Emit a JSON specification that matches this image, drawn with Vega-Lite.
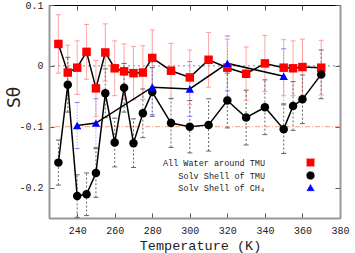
{
  "$schema": "https://vega.github.io/schema/vega-lite/v6.json",
  "width": 291,
  "height": 213,
  "autosize": {"type": "none"},
  "padding": {"left": 49, "top": 5, "right": 15, "bottom": 35},
  "background": "white",
  "config": {
    "view": {"stroke": "#000", "strokeWidth": 1},
    "legend": {"labelFont": "Liberation Mono", "labelFontSize": 8.5, "labelColor": "#222222", "labelAlign": "right", "labelOffset": -50, "symbolSize": 64, "rowPadding": 0, "symbolStrokeWidth": 1}
  },
  "datasets": {
    "d": [
      {"s": "All Water around TMU", "T": 230, "S": 0.036, "lo": -0.012, "hi": 0.084},
      {"s": "All Water around TMU", "T": 235, "S": -0.011, "lo": -0.056, "hi": 0.034},
      {"s": "All Water around TMU", "T": 240, "S": -0.003, "lo": -0.047, "hi": 0.041},
      {"s": "All Water around TMU", "T": 245, "S": 0.023, "lo": -0.022, "hi": 0.068},
      {"s": "All Water around TMU", "T": 250, "S": -0.037, "lo": -0.083, "hi": 0.009},
      {"s": "All Water around TMU", "T": 255, "S": 0.022, "lo": -0.025, "hi": 0.069},
      {"s": "All Water around TMU", "T": 260, "S": -0.004, "lo": -0.049, "hi": 0.041},
      {"s": "All Water around TMU", "T": 265, "S": -0.009, "lo": -0.054, "hi": 0.036},
      {"s": "All Water around TMU", "T": 270, "S": -0.012, "lo": -0.056, "hi": 0.032},
      {"s": "All Water around TMU", "T": 275, "S": -0.011, "lo": -0.055, "hi": 0.033},
      {"s": "All Water around TMU", "T": 280, "S": 0.013, "lo": -0.033, "hi": 0.059},
      {"s": "All Water around TMU", "T": 290, "S": -0.008, "lo": -0.053, "hi": 0.037},
      {"s": "All Water around TMU", "T": 300, "S": -0.019, "lo": -0.064, "hi": 0.026},
      {"s": "All Water around TMU", "T": 310, "S": 0.010, "lo": -0.035, "hi": 0.055},
      {"s": "All Water around TMU", "T": 320, "S": -0.003, "lo": -0.050, "hi": 0.044},
      {"s": "All Water around TMU", "T": 330, "S": -0.013, "lo": -0.057, "hi": 0.031},
      {"s": "All Water around TMU", "T": 340, "S": 0.004, "lo": -0.042, "hi": 0.050},
      {"s": "All Water around TMU", "T": 350, "S": -0.003, "lo": -0.049, "hi": 0.043},
      {"s": "All Water around TMU", "T": 355, "S": -0.004, "lo": -0.049, "hi": 0.041},
      {"s": "All Water around TMU", "T": 360, "S": -0.002, "lo": -0.048, "hi": 0.044},
      {"s": "All Water around TMU", "T": 370, "S": -0.003, "lo": -0.048, "hi": 0.042},
      {"s": "Solv Shell of TMU", "T": 230, "S": -0.159, "lo": -0.196, "hi": -0.122},
      {"s": "Solv Shell of TMU", "T": 235, "S": -0.031, "lo": -0.076, "hi": 0.014},
      {"s": "Solv Shell of TMU", "T": 240, "S": -0.214, "lo": -0.249, "hi": -0.179},
      {"s": "Solv Shell of TMU", "T": 245, "S": -0.211, "lo": -0.246, "hi": -0.176},
      {"s": "Solv Shell of TMU", "T": 250, "S": -0.176, "lo": -0.216, "hi": -0.136},
      {"s": "Solv Shell of TMU", "T": 255, "S": -0.045, "lo": -0.085, "hi": -0.005},
      {"s": "Solv Shell of TMU", "T": 260, "S": -0.126, "lo": -0.166, "hi": -0.086},
      {"s": "Solv Shell of TMU", "T": 265, "S": -0.036, "lo": -0.076, "hi": 0.004},
      {"s": "Solv Shell of TMU", "T": 270, "S": -0.127, "lo": -0.167, "hi": -0.087},
      {"s": "Solv Shell of TMU", "T": 275, "S": -0.078, "lo": -0.118, "hi": -0.038},
      {"s": "Solv Shell of TMU", "T": 280, "S": -0.043, "lo": -0.083, "hi": -0.003},
      {"s": "Solv Shell of TMU", "T": 290, "S": -0.094, "lo": -0.134, "hi": -0.054},
      {"s": "Solv Shell of TMU", "T": 300, "S": -0.100, "lo": -0.143, "hi": -0.057},
      {"s": "Solv Shell of TMU", "T": 310, "S": -0.097, "lo": -0.140, "hi": -0.054},
      {"s": "Solv Shell of TMU", "T": 320, "S": -0.057, "lo": -0.102, "hi": -0.012},
      {"s": "Solv Shell of TMU", "T": 330, "S": -0.085, "lo": -0.130, "hi": -0.040},
      {"s": "Solv Shell of TMU", "T": 340, "S": -0.068, "lo": -0.113, "hi": -0.023},
      {"s": "Solv Shell of TMU", "T": 350, "S": -0.104, "lo": -0.144, "hi": -0.064},
      {"s": "Solv Shell of TMU", "T": 355, "S": -0.066, "lo": -0.106, "hi": -0.026},
      {"s": "Solv Shell of TMU", "T": 360, "S": -0.055, "lo": -0.095, "hi": -0.015},
      {"s": "Solv Shell of TMU", "T": 370, "S": -0.014, "lo": -0.054, "hi": 0.026},
      {"s": "Solv Shell of CH₄", "T": 240, "S": -0.098, "lo": -0.136, "hi": -0.060},
      {"s": "Solv Shell of CH₄", "T": 250, "S": -0.094, "lo": -0.134, "hi": -0.054},
      {"s": "Solv Shell of CH₄", "T": 280, "S": -0.035, "lo": -0.080, "hi": 0.010},
      {"s": "Solv Shell of CH₄", "T": 300, "S": -0.038, "lo": -0.083, "hi": 0.007},
      {"s": "Solv Shell of CH₄", "T": 320, "S": 0.004, "lo": -0.041, "hi": 0.049},
      {"s": "Solv Shell of CH₄", "T": 350, "S": -0.017, "lo": -0.062, "hi": 0.028}
    ]
  },
  "data": {"name": "d"},
  "resolve": {"axis": {"x": "independent", "y": "independent"}},
  "layer": [
    {
      "data": {"values": [{}]},
      "mark": {"type": "rule", "color": "#888888", "strokeDash": [2, 3], "strokeWidth": 1},
      "encoding": {"y": {"datum": 0, "type": "quantitative", "scale": {"domain": [-0.25, 0.1], "nice": false, "zero": false}, "axis": null}}
    },
    {
      "data": {"values": [{}]},
      "mark": {"type": "rule", "color": "#f0a080", "strokeDash": [5, 2, 1, 2], "strokeWidth": 1},
      "encoding": {"y": {"datum": -0.1, "type": "quantitative", "axis": null}}
    },
    {
      "mark": {"type": "rule", "strokeWidth": 1},
      "encoding": {
        "x": {"field": "T", "type": "quantitative", "scale": {"domain": [225, 380], "nice": false, "zero": false}, "axis": null},
        "y": {"field": "lo", "type": "quantitative", "axis": null},
        "y2": {"field": "hi"},
        "stroke": {"field": "s", "type": "nominal", "scale": {"domain": ["All Water around TMU", "Solv Shell of TMU", "Solv Shell of CH₄"], "range": ["#ff9a9a", "#666666", "#8080ff"]}, "legend": {"title": null, "orient": "none", "legendX": 257, "legendY": 153}},
        "strokeDash": {"field": "s", "type": "nominal", "scale": {"domain": ["All Water around TMU", "Solv Shell of TMU", "Solv Shell of CH₄"], "range": [[1, 0], [2, 2], [1, 2]]}, "legend": {"title": null, "orient": "none", "legendX": 257, "legendY": 153}}
      }
    },
    {
      "mark": {"type": "point", "shape": "M-1,0H1", "filled": false, "opacity": 1, "size": 25, "strokeWidth": 1},
      "encoding": {
        "x": {"field": "T", "type": "quantitative", "axis": null},
        "y": {"field": "lo", "type": "quantitative", "axis": null},
        "stroke": {"field": "s", "type": "nominal", "legend": {"title": null, "orient": "none", "legendX": 257, "legendY": 153}}
      }
    },
    {
      "mark": {"type": "point", "shape": "M-1,0H1", "filled": false, "opacity": 1, "size": 25, "strokeWidth": 1},
      "encoding": {
        "x": {"field": "T", "type": "quantitative", "axis": null},
        "y": {"field": "hi", "type": "quantitative", "axis": null},
        "stroke": {"field": "s", "type": "nominal", "legend": {"title": null, "orient": "none", "legendX": 257, "legendY": 153}}
      }
    },
    {
      "mark": {"type": "line", "color": "#000000", "strokeWidth": 1.5},
      "encoding": {
        "x": {"field": "T", "type": "quantitative", "axis": null},
        "y": {"field": "S", "type": "quantitative", "axis": null},
        "detail": {"field": "s", "type": "nominal"}
      }
    },
    {
      "mark": {"type": "point", "filled": true, "opacity": 1, "size": 72},
      "encoding": {
        "x": {
          "field": "T", "type": "quantitative",
          "axis": {
            "values": [240, 260, 280, 300, 320, 340, 360, 380],
            "title": "Temperature (K)", "titleFont": "Liberation Mono", "titleFontSize": 13.5, "titleFontWeight": "normal", "titleColor": "#222222", "titlePadding": 3, "titleX": 151,
            "labelFont": "Liberation Mono", "labelFontSize": 10, "labelColor": "#222222", "labelFlush": false,
            "tickSize": -5, "tickColor": "#555555", "labelPadding": 12,
            "domainColor": "#999999", "domainWidth": 2, "grid": false
          }
        },
        "y": {
          "field": "S", "type": "quantitative",
          "axis": {
            "values": [-0.2, -0.1, 0, 0.1],
            "labelExpr": "datum.value == 0 ? '0' : (datum.value < 0 ? '-' + format(-datum.value, '.1f') : format(datum.value, '.1f'))",
            "title": "Sθ", "titleFont": "DejaVu Sans", "titleFontSize": 17, "titleFontWeight": "normal", "titleColor": "#222222",
            "titleX": -35, "titleY": 92, "titleBaseline": "middle", "titleAngle": -90,
            "labelFont": "Liberation Mono", "labelFontSize": 10, "labelColor": "#222222", "labelFlush": false,
            "tickSize": -5, "tickColor": "#555555", "labelPadding": 11,
            "domainColor": "#999999", "domainWidth": 2, "grid": false
          }
        },
        "color": {
          "field": "s", "type": "nominal",
          "scale": {"domain": ["All Water around TMU", "Solv Shell of TMU", "Solv Shell of CH₄"], "range": ["#ff0000", "#000000", "#0000ff"]},
          "legend": {"title": null, "orient": "none", "legendX": 257, "legendY": 153}
        },
        "shape": {
          "field": "s", "type": "nominal",
          "scale": {"domain": ["All Water around TMU", "Solv Shell of TMU", "Solv Shell of CH₄"], "range": ["square", "circle", "triangle-up"]},
          "legend": {"title": null, "orient": "none", "legendX": 257, "legendY": 153}
        }
      }
    },
    {
      "mark": {"type": "point", "opacity": 0},
      "encoding": {
        "x": {
          "field": "T", "type": "quantitative",
          "axis": {"orient": "top", "values": [240, 260, 280, 300, 320, 340, 360, 380], "labels": false, "title": null, "tickSize": -5, "tickColor": "#555555", "domain": false, "grid": false}
        },
        "y": {
          "field": "S", "type": "quantitative",
          "axis": {"orient": "right", "values": [-0.2, -0.1, 0, 0.1], "labels": false, "title": null, "tickSize": -5, "tickColor": "#555555", "domainColor": "#999999", "domainWidth": 2, "grid": false}
        }
      }
    }
  ]
}
